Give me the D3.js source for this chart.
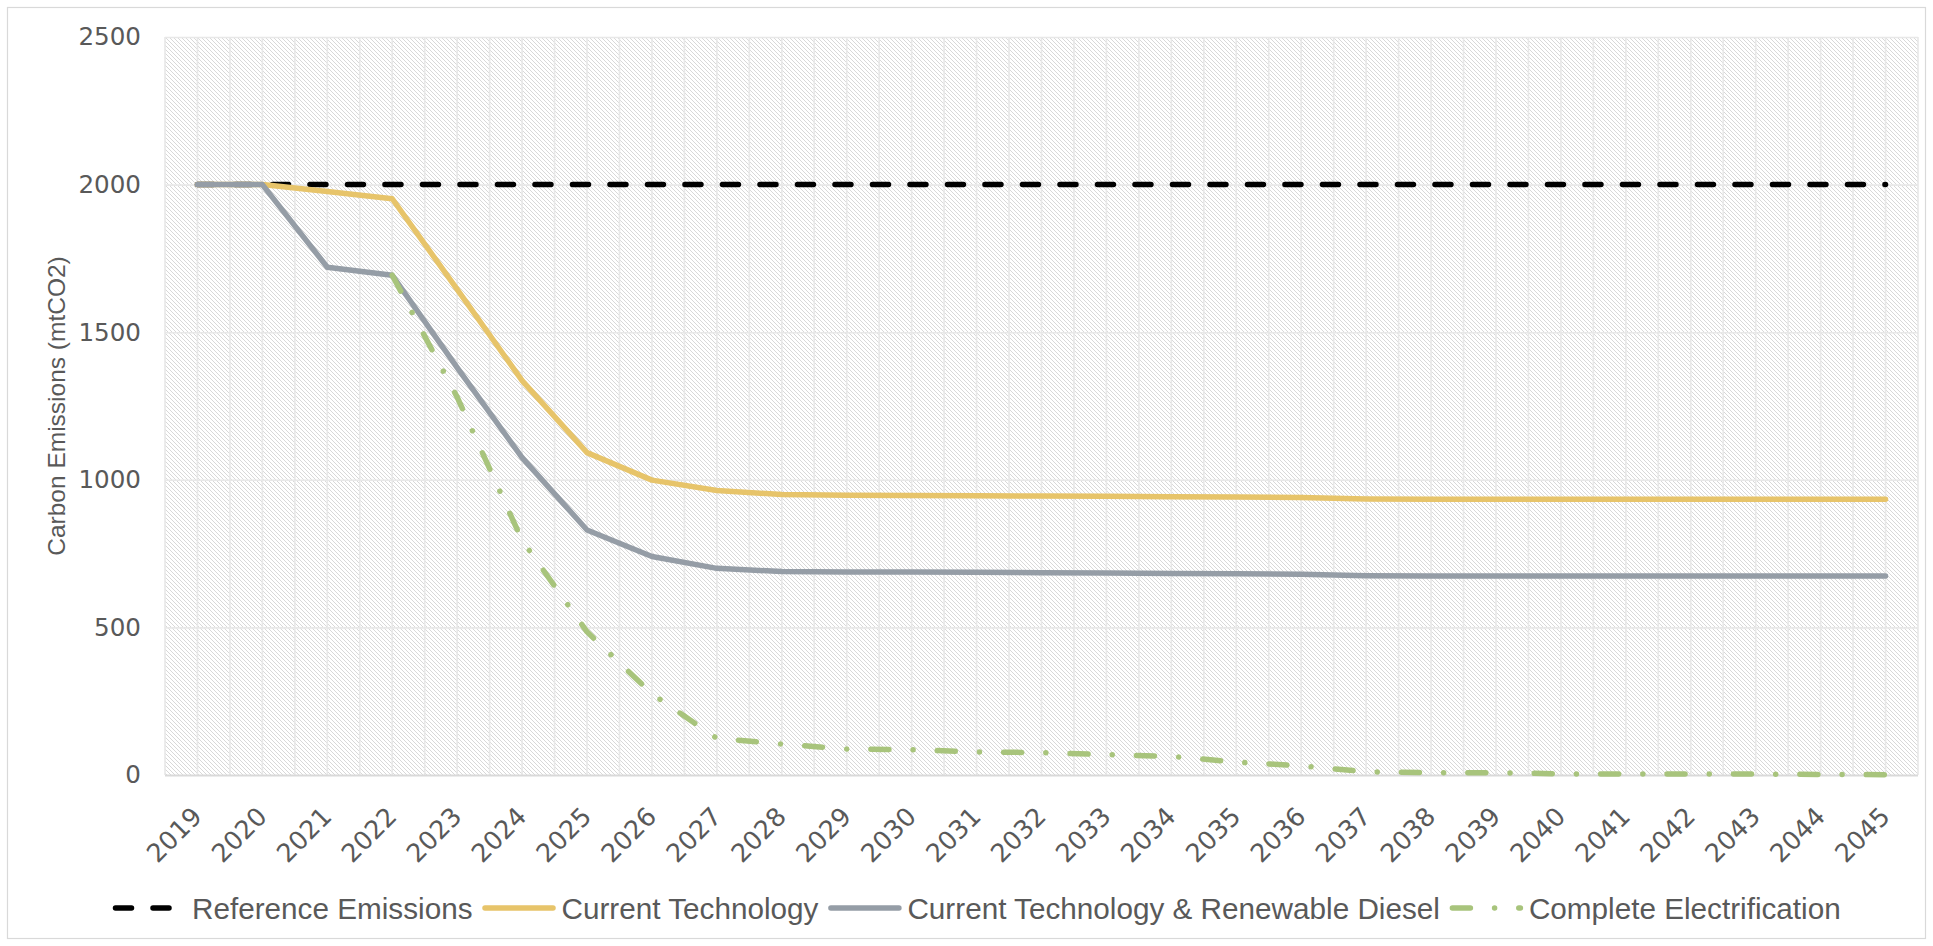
<!DOCTYPE html>
<html>
<head>
<meta charset="utf-8">
<script src="https://cdn.jsdelivr.net/npm/d3@7"></script>
<style>
  html, body { margin: 0; padding: 0; background: #ffffff; }
  svg { display: block; }
</style>
</head>
<body>
<svg id="chart" width="1933" height="946"></svg>
<script>
// ---- Data ---------------------------------------------------------------
const years = ["2019","2020","2021","2022","2023","2024","2025","2026","2027",
               "2028","2029","2030","2031","2032","2033","2034","2035","2036",
               "2037","2038","2039","2040","2041","2042","2043","2044","2045"];

const referenceEmissions = [2000,2000,2000,2000,2000,2000,2000,2000,2000,
                            2000,2000,2000,2000,2000,2000,2000,2000,2000,
                            2000,2000,2000,2000,2000,2000,2000,2000,2000];

const currentTechnology = [2000,2000,1977,1952,1645,1336,1092,999,964,
                           950,948,947,946,945,944,943,942,940,
                           935,934,934,934,934,934,934,934,934];

const renewableDiesel = [2000,2000,1720,1693,1380,1075,830,740,700,
                         689,688,688,687,685,684,683,682,680,
                         675,674,674,674,674,674,674,674,674];

const electrification = [null,null,null,1693,1280,795,485,275,124,
                         105,88,86,78,76,69,63,44,31,
                         11,8,8,4,3,3,3,2,1];

const yTicks = [0, 500, 1000, 1500, 2000, 2500];

const seriesNames = ["Reference Emissions", "Current Technology",
                     "Current Technology & Renewable Diesel", "Complete Electrification"];

// ---- Styles --------------------------------------------------------------
const TEXT = "#595959";
const styles = [
  { values: referenceEmissions, color: "#000000", dash: "16,21.5" },
  { values: currentTechnology,  color: "#E7C46A", dash: null },
  { values: renewableDiesel,    color: "#959DA6", dash: null },
  { values: electrification,    color: "#A8C47C", dash: "18,24.2,0.01,24.2" }
];
const LINE_W = 5.5;

// ---- Layout --------------------------------------------------------------
const plot = { left: 165, right: 1918, top: 37, bottom: 775 };
const svg = d3.select("#chart");

svg.append("rect").attr("width", 1933).attr("height", 946).attr("fill", "#ffffff");
svg.append("rect")
  .attr("x", 7.5).attr("y", 7.5).attr("width", 1918).attr("height", 931)
  .attr("fill", "none").attr("stroke", "#d9d9d9").attr("stroke-width", 1.2);

// diagonal hatch fill for the plot area
const defs = svg.append("defs");
const pat = defs.append("pattern")
  .attr("id", "hatch").attr("patternUnits", "userSpaceOnUse")
  .attr("width", 4).attr("height", 4);
pat.append("rect").attr("width", 4).attr("height", 4).attr("fill", "#ffffff");
pat.append("path")
  .attr("d", "M-1,-1L5,5M3,-1L5,1M-1,3L1,5")
  .attr("stroke", "#d8d8d8").attr("stroke-width", 1);

const x = d3.scaleBand().domain(years).range([plot.left, plot.right]).padding(0);
const y = d3.scaleLinear().domain([0, 2500]).range([plot.bottom, plot.top]);
const bw = x.bandwidth();
const cx = d => x(d) + bw / 2;

svg.append("rect")
  .attr("x", plot.left).attr("y", plot.top)
  .attr("width", plot.right - plot.left).attr("height", plot.bottom - plot.top)
  .attr("fill", "url(#hatch)");

// vertical gridlines: category boundaries and category centres
const grid = svg.append("g").attr("stroke", "#e8e8e8").attr("stroke-width", 1.6);
const vx = [];
years.forEach(d => { vx.push(x(d)); vx.push(cx(d)); });
vx.push(plot.right);
grid.selectAll("line.v").data(vx).join("line")
  .attr("class", "v")
  .attr("x1", d => d).attr("x2", d => d)
  .attr("y1", plot.top).attr("y2", plot.bottom);

// horizontal gridlines + y labels
const yAxis = svg.append("g")
  .attr("transform", `translate(${plot.left},0)`)
  .call(d3.axisLeft(y).tickValues(yTicks).tickFormat(d3.format("d"))
        .tickSize(-(plot.right - plot.left)).tickPadding(24));
yAxis.select(".domain").remove();
yAxis.selectAll(".tick line")
  .attr("stroke", d => d === 0 ? "#d9d9d9" : "#e8e8e8")
  .attr("stroke-width", d => d === 0 ? 2 : 1.6);
yAxis.selectAll(".tick text")
  .attr("fill", TEXT)
  .style("font-family", "'DejaVu Sans', sans-serif")
  .style("font-size", "24.6px");

// x axis labels, rotated
const xAxis = svg.append("g")
  .attr("transform", `translate(0,${plot.bottom})`)
  .call(d3.axisBottom(x).tickSize(0));
xAxis.select(".domain").remove();
xAxis.selectAll(".tick text")
  .attr("x", 0).attr("y", 0).attr("dy", 0)
  .attr("transform", "translate(6,43) rotate(-45)")
  .style("text-anchor", "end")
  .attr("fill", TEXT)
  .style("font-family", "'DejaVu Sans', sans-serif")
  .style("font-size", "25.5px");

// y axis title
svg.append("text")
  .attr("transform", `translate(65,${(plot.top + plot.bottom) / 2}) rotate(-90)`)
  .attr("text-anchor", "middle")
  .attr("fill", TEXT)
  .style("font-family", "'Liberation Sans', Arial, sans-serif")
  .style("font-size", "24.5px")
  .text("Carbon Emissions (mtCO2)");

// ---- Series lines ---------------------------------------------------------
const line = d3.line()
  .defined(d => d.v !== null)
  .x(d => cx(d.year))
  .y(d => y(d.v));

styles.forEach(s => {
  const pts = years.map((yr, i) => ({ year: yr, v: s.values[i] }));
  const p = svg.append("path")
    .datum(pts)
    .attr("d", line)
    .attr("fill", "none")
    .attr("stroke", s.color)
    .attr("stroke-width", LINE_W)
    .attr("stroke-linejoin", "round")
    .attr("stroke-linecap", "round");
  if (s.dash) p.attr("stroke-dasharray", s.dash);
});

// ---- Legend ---------------------------------------------------------------
const legend = svg.append("g").attr("transform", "translate(0,908)");
let lx = 115.5;
const SAMPLE = 68;
seriesNames.forEach((name, i) => {
  const s = styles[i];
  const sample = legend.append("line")
    .attr("x1", lx).attr("x2", lx + SAMPLE)
    .attr("y1", 0).attr("y2", 0)
    .attr("stroke", s.color)
    .attr("stroke-width", LINE_W)
    .attr("stroke-linecap", "round");
  if (s.dash) sample.attr("stroke-dasharray", s.dash);
  const t = legend.append("text")
    .attr("x", lx + SAMPLE + 8.5)
    .attr("y", 11)
    .attr("fill", TEXT)
    .style("font-family", "'Liberation Sans', Arial, sans-serif")
    .style("font-size", "29.7px")
    .text(name);
  lx = lx + SAMPLE + 8.5 + t.node().getComputedTextLength() + 12.5;
});
</script>
</body>
</html>
